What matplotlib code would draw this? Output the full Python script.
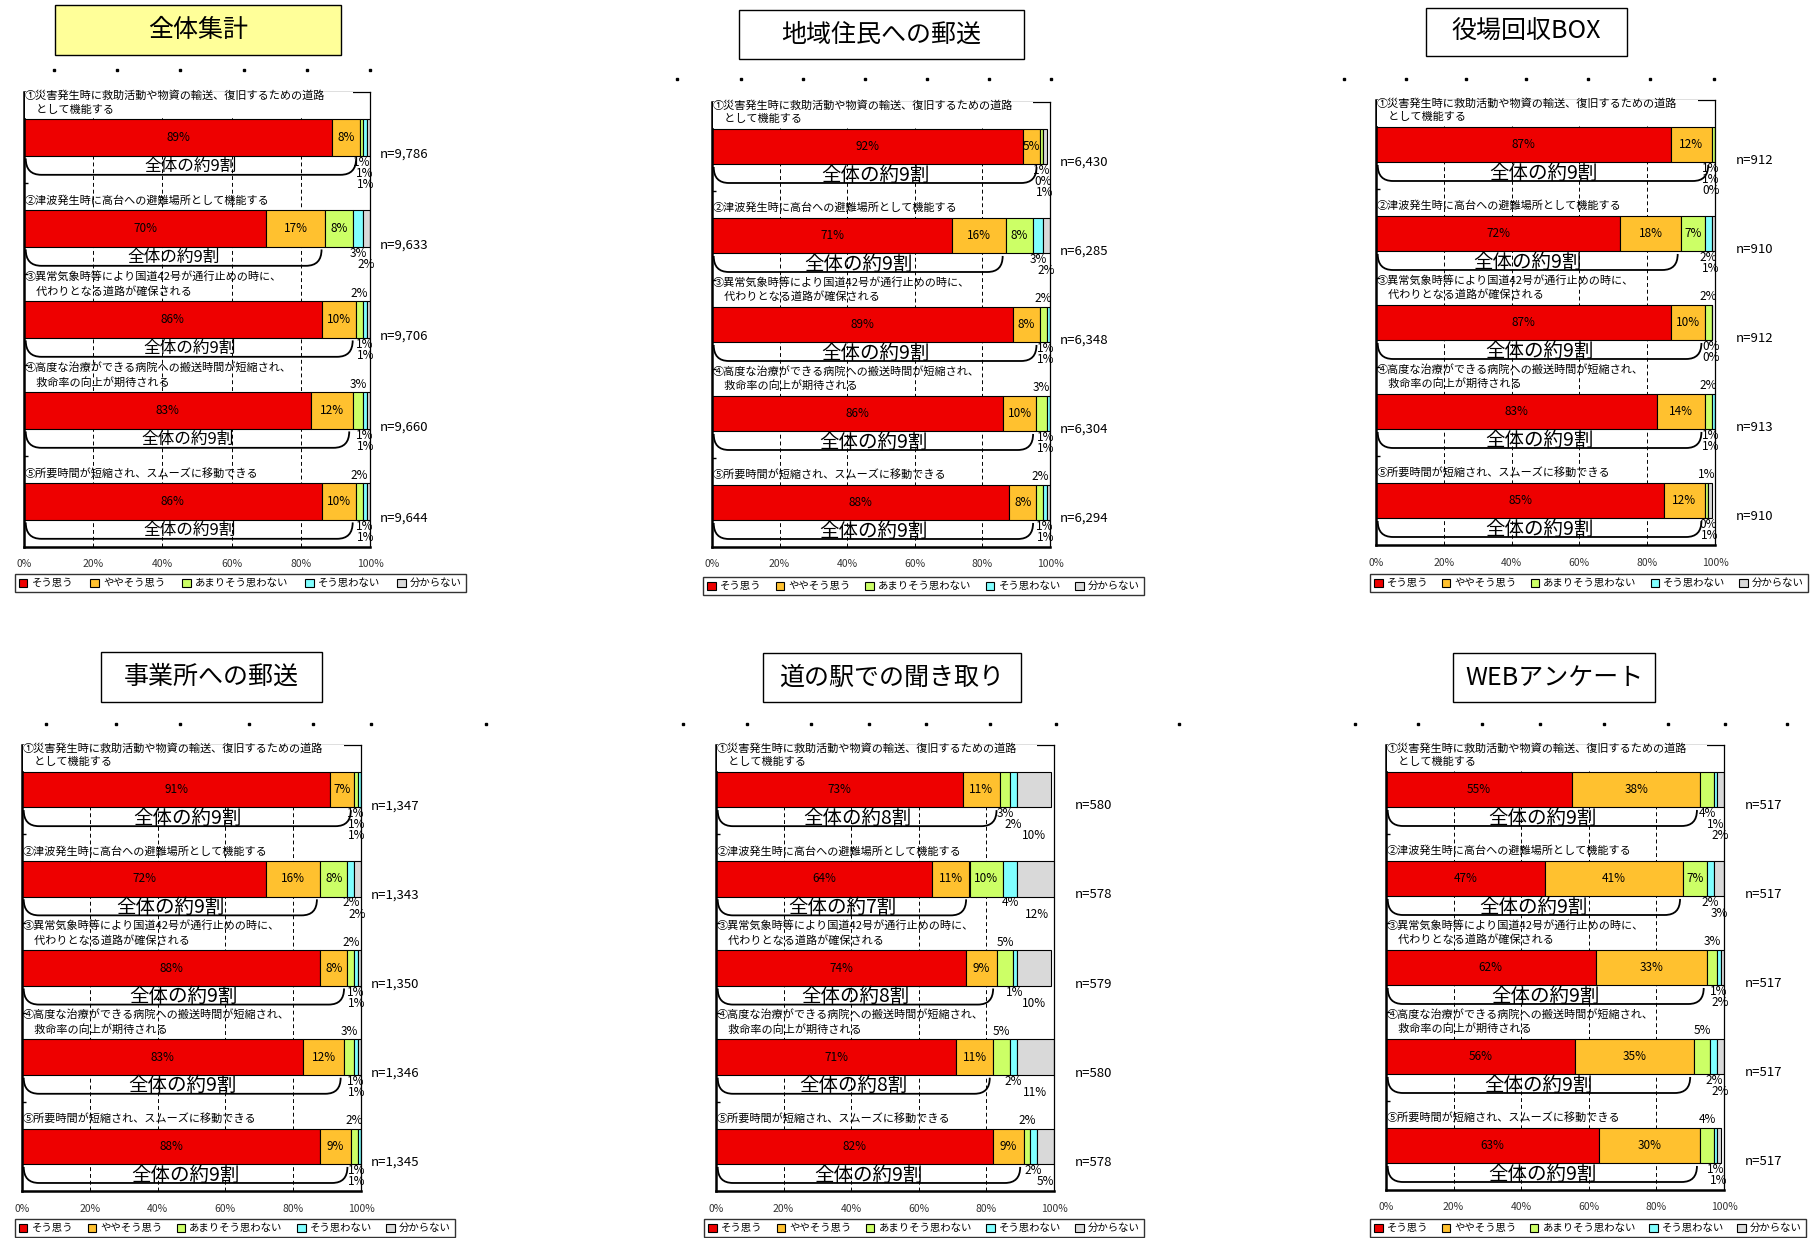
import matplotlib
matplotlib.use('Agg')
import matplotlib.pyplot as plt
from matplotlib.patches import Rectangle, Patch, PathPatch
from matplotlib.path import Path
from matplotlib.lines import Line2D
from matplotlib.transforms import blended_transform_factory

plt.rcParams['font.family'] = ['Noto Sans CJK JP', 'DejaVu Sans']

W, H = 1816, 1238

# ---------------- data ----------------
panel_titles = ['全体集計', '地域住民への郵送', '役場回収BOX',
                '事業所への郵送', '道の駅での聞き取り', 'WEBアンケート']
legend_labels = ['そう思う', 'ややそう思う', 'あまりそう思わない', 'そう思わない', '分からない']
questions = [
    '①災害発生時に救助活動や物資の輸送、復旧するための道路\n\u3000として機能する',
    '②津波発生時に高台への避難場所として機能する',
    '③異常気象時等により国道42号が通行止めの時に、\n\u3000代わりとなる道路が確保される',
    '④高度な治療ができる病院への搬送時間が短縮され、\n\u3000救命率の向上が期待される',
    '⑤所要時間が短縮され、スムーズに移動できる',
]
tick_values = [0, 20, 40, 60, 80, 100]

# values per question: [そう思う, ややそう思う, あまりそう思わない, そう思わない, 分からない]
zentai = [[89, 8, 1, 1, 1], [70, 17, 8, 3, 2], [86, 10, 2, 1, 1], [83, 12, 3, 1, 1], [86, 10, 2, 1, 1]]
chiiki = [[92, 5, 1, 0, 1], [71, 16, 8, 3, 2], [89, 8, 2, 1, 1], [86, 10, 3, 1, 1], [88, 8, 2, 1, 1]]
yakuba = [[87, 12, 1, 1, 0], [72, 18, 7, 2, 1], [87, 10, 2, 0, 0], [83, 14, 2, 1, 1], [85, 12, 1, 0, 1]]
jigyosho = [[91, 7, 1, 1, 1], [72, 16, 8, 2, 2], [88, 8, 2, 1, 1], [83, 12, 3, 1, 1], [88, 9, 2, 1, 1]]
michinoeki = [[73, 11, 3, 2, 10], [64, 11, 10, 4, 12], [74, 9, 5, 1, 10], [71, 11, 5, 2, 11], [82, 9, 2, 2, 5]]
web = [[55, 38, 4, 1, 2], [47, 41, 7, 2, 3], [62, 33, 3, 1, 2], [56, 35, 5, 2, 2], [63, 30, 4, 1, 1]]
panel_values = [zentai, chiiki, yakuba, jigyosho, michinoeki, web]

n_zentai = [9786, 9633, 9706, 9660, 9644]
n_chiiki = [6430, 6285, 6348, 6304, 6294]
n_yakuba = [912, 910, 912, 913, 910]
n_jigyosho = [1347, 1343, 1350, 1346, 1345]
n_michinoeki = [580, 578, 579, 580, 578]
n_web = [517, 517, 517, 517, 517]
panel_n = [n_zentai, n_chiiki, n_yakuba, n_jigyosho, n_michinoeki, n_web]

wari_zentai = [9, 9, 9, 9, 9]
wari_chiiki = [9, 9, 9, 9, 9]
wari_yakuba = [9, 9, 9, 9, 9]
wari_jigyosho = [9, 9, 9, 9, 9]
wari_michinoeki = [8, 7, 8, 8, 9]
wari_web = [9, 9, 9, 9, 9]
panel_wari = [wari_zentai, wari_chiiki, wari_yakuba, wari_jigyosho, wari_michinoeki, wari_web]

# ---------------- style / layout ----------------
colors = ['#EE0000', '#FFC12F', '#CCFF66', '#80FFFF', '#D9D9D9']
axes_px = [(24, 92, 370, 547), (712, 102, 1050, 547), (1376, 100, 1715, 545),
           (22, 745, 361, 1191), (716, 745, 1054, 1191), (1386, 745, 1724, 1190)]
legend_px = [(15, 574, 466, 596), (703, 577, 1144, 598), (1370, 574, 1808, 597),
             (15, 1219, 455, 1241), (704, 1219, 1144, 1241), (1370, 1219, 1806, 1241)]
title_px = [(55, 5, 341, 55), (739, 10, 1024, 59), (1426, 8, 1627, 56),
            (101, 652, 322, 702), (763, 653, 1021, 702), (1453, 653, 1655, 702)]
title_fc = ['#FFFF99', 'white', 'white', 'white', 'white', 'white']
brace_fs = [12, 14, 14, 14, 14, 14]
dots_px = [
    (70, [54, 117, 180, 244, 307, 370]),
    (79, [677, 741, 803, 865, 927, 989, 1051]),
    (79, [1344, 1406, 1466, 1526, 1588, 1650, 1714]),
    (724, [46, 116, 180, 249, 313, 371, 486]),
    (724, [683, 747, 811, 869, 926, 990, 1056, 1179]),
    (724, [1355, 1418, 1482, 1540, 1604, 1668, 1725, 1787]),
]

fig = plt.figure(figsize=(W / 100, H / 100), dpi=100)


def fx(px):
    return px / W


def fy(py):
    return 1 - py / H


handles = [Patch(facecolor=c, edgecolor='black', linewidth=0.8) for c in colors]
BH = 0.4

for p in range(6):
    x0, y0, x1, y1 = axes_px[p]
    ax = fig.add_axes([fx(x0), fy(y1), (x1 - x0) / W, (y1 - y0) / H])
    data = panel_values[p]
    nq = len(data)
    ypos = list(range(nq))

    lefts = [0] * nq
    for j in range(5):
        vals = [row[j] for row in data]
        ax.barh(ypos, vals, left=lefts, height=BH, color=colors[j],
                edgecolor='black', linewidth=0.8, zorder=2)
        lefts = [l + v for l, v in zip(lefts, vals)]

    # segment labels
    for i, row in enumerate(data):
        cum = 0
        below = []
        above = []
        for j, v in enumerate(row):
            c = cum + v / 2
            cum += v
            if j < 2 or (j == 2 and v >= 6):
                ax.text(c, i, f'{v}%', ha='center', va='center', fontsize=8.5, zorder=5)
            elif j == 2 and i > 0:
                above.append((c, v))
            else:
                below.append((c, v))
        for (c, v) in above:
            ax.text(min(c, 98.6), i - 0.29, f'{v}%', ha='center', va='center',
                    fontsize=8.5, zorder=5)
        for k, (c, v) in enumerate(below):
            ax.text(min(c, 98.8), i + 0.27 + 0.125 * k, f'{v}%', ha='center', va='center',
                    fontsize=8.5, zorder=5)

        # brace
        bx0 = 0.5
        bx1 = row[0] + row[1] - 1
        r = 4.5
        top = i + 0.23
        bot = i + 0.41
        verts = [(bx0, top), (bx0, bot), (bx0 + r, bot), (bx1 - r, bot),
                 (bx1, bot), (bx1, top)]
        codes = [Path.MOVETO, Path.CURVE3, Path.CURVE3, Path.LINETO, Path.CURVE3, Path.CURVE3]
        ax.add_patch(PathPatch(Path(verts, codes), fill=False, lw=1.3,
                               edgecolor='black', zorder=4))
        ax.text((bx0 + bx1) / 2, i + 0.32, f'全体の約{panel_wari[p][i]}割',
                ha='center', va='center', fontsize=brace_fs[p], zorder=5)

        # question text
        ax.text(0.3, i - BH / 2 - 0.05, questions[i], ha='left', va='bottom',
                fontsize=8, linespacing=1.45, zorder=5)

        # n label
        tr = blended_transform_factory(ax.transAxes, ax.transData)
        ax.text(1 + 58 / (x1 - x0), i + 0.18, f'n={panel_n[p][i]:,}', transform=tr,
                ha='right', va='center', fontsize=9.5)

    # white area behind first question
    ax.add_patch(Rectangle((0.4, -0.5), 94.6, 0.5 - BH / 2 - 0.01, facecolor='white',
                           edgecolor='none', zorder=2.7, clip_on=False))

    ax.set_xlim(0, 100)
    ax.set_ylim(nq - 0.5, -0.5)
    ax.set_xticks(tick_values)
    ax.set_xticklabels([f'{t}%' for t in tick_values])
    ax.tick_params(axis='x', length=0, pad=9, labelsize=7.5, labelcolor='#333333')
    ax.set_yticks([i + 0.5 for i in range(nq - 1)])
    ax.set_yticklabels([])
    ax.tick_params(axis='y', direction='in', length=3, width=1)
    ax.xaxis.grid(True, linestyle=(0, (4, 3)), color='black', lw=0.7)
    ax.set_axisbelow(True)
    for s in ['left', 'bottom']:
        ax.spines[s].set_linewidth(1.8)
    for s in ['right', 'top']:
        ax.spines[s].set_linewidth(0.9)

    # legend
    lx0, ly0, lx1, ly1 = legend_px[p]
    leg = ax.legend(handles, legend_labels, loc='upper left',
                    bbox_to_anchor=(fx(lx0), fy(ly0), (lx1 - lx0) / W, 0),
                    bbox_transform=fig.transFigure, mode='expand', ncol=5,
                    fontsize=7.5, frameon=True, fancybox=False, edgecolor='black',
                    handlelength=0.8, handleheight=0.8, handletextpad=0.4,
                    borderaxespad=0, borderpad=0.4, columnspacing=0.8)
    leg.get_frame().set_linewidth(1.0)

    # title box
    tx0, ty0, tx1, ty1 = title_px[p]
    fig.add_artist(Rectangle((fx(tx0), fy(ty1)), (tx1 - tx0) / W, (ty1 - ty0) / H,
                             transform=fig.transFigure, facecolor=title_fc[p],
                             edgecolor='black', lw=1.0))
    fig.text(fx((tx0 + tx1) / 2), fy((ty0 + ty1) / 2), panel_titles[p],
             ha='center', va='center', fontsize=18)

    # decoration dots
    dy, dxs = dots_px[p]
    fig.add_artist(Line2D([fx(d) for d in dxs], [fy(dy)] * len(dxs),
                          transform=fig.transFigure, ls='none', marker='s',
                          ms=1.6, color='black'))

fig.savefig('out.png', dpi=100, facecolor='white')
